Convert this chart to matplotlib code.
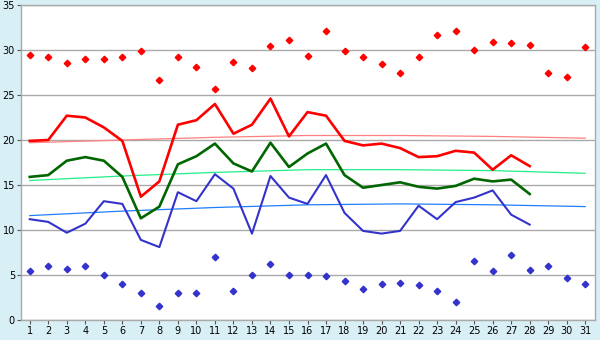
import numpy as np
import matplotlib
matplotlib.use("Agg")
import matplotlib.pyplot as plt

days = list(range(1, 32))
days_obs = list(range(1, 29))

t_max = [19.9, 20.0, 22.7, 22.5, 21.4, 19.9, 13.7, 15.4, 21.7, 22.2,
         24.0, 20.7, 21.7, 24.6, 20.4, 23.1, 22.7, 19.9, 19.4, 19.6,
         19.1, 18.1, 18.2, 18.8, 18.6, 16.7, 18.3, 17.1]
t_mean = [15.9, 16.1, 17.7, 18.1, 17.7, 15.9, 11.3, 12.6, 17.3, 18.2,
          19.6, 17.4, 16.5, 19.7, 17.0, 18.5, 19.6, 16.1, 14.7, 15.0,
          15.3, 14.8, 14.6, 14.9, 15.7, 15.4, 15.6, 14.0]
t_min = [11.2, 10.9, 9.7, 10.7, 13.2, 12.9, 8.9, 8.1, 14.2, 13.2,
         16.2, 14.6, 9.6, 16.0, 13.6, 12.9, 16.1, 11.9, 9.9, 9.6,
         9.9, 12.7, 11.2, 13.1, 13.6, 14.4, 11.7, 10.6]

rec_high = [29.5, 29.2, 28.6, 29.0, 29.0, 29.2, 29.85, 26.7, 29.2, 28.1,
            25.7, 28.7, 28.0, 30.5, 31.1, 29.3, 32.1, 29.85, 29.2, 28.5,
            27.4, 29.2, 31.7, 32.1, 30.0, 30.85, 30.75, 30.6, 27.5, 27.0, 30.3]
rec_low = [5.5, 6.0, 5.7, 6.0, 5.0, 4.0, 3.0, 1.55, 3.0, 3.0,
           7.0, 3.2, 5.0, 6.2, 5.0, 5.0, 4.9, 4.3, 3.5, 4.0,
           4.1, 3.85, 3.2, 2.0, 6.6, 5.4, 7.2, 5.6, 6.0, 4.7, 4.0]

# smooth normal curves, read at a few days
trend_days = [1, 6, 11, 16, 21, 26, 31]
norm_max = [19.7, 20.0, 20.3, 20.5, 20.5, 20.4, 20.2]
norm_mean = [15.5, 16.0, 16.4, 16.7, 16.7, 16.6, 16.3]
norm_min = [11.6, 12.1, 12.5, 12.8, 12.9, 12.8, 12.6]

bg = "#d9eff6"
fig = plt.figure(figsize=(6, 3.4), dpi=100, facecolor=bg)
ax = fig.add_axes([20.5 / 600, 20 / 340, 574 / 600, 315 / 340])
ax.set_facecolor("white")

ax.set_xlim(0.5, 31.5)
ax.set_ylim(0, 35)
ax.set_yticks(range(0, 36, 5))
ax.set_xticks(days)
ax.grid(axis="y", color="#aaaaaa", linewidth=1.0)
ax.set_axisbelow(True)
for s in ax.spines.values():
    s.set_color("#aaaaaa")
    s.set_linewidth(1.0)
ax.tick_params(axis="both", colors="#555555", labelcolor="black",
               labelsize=7, length=3, width=0.8, pad=1)

ax.plot(trend_days, norm_max, color="#ff8080", linewidth=0.9)
ax.plot(trend_days, norm_mean, color="#22ee88", linewidth=0.9)
ax.plot(trend_days, norm_min, color="#1e7fff", linewidth=0.9)

ax.plot(days_obs, t_max, color="#ff0000", linewidth=1.9)
ax.plot(days_obs, t_mean, color="#006600", linewidth=1.9)
ax.plot(days_obs, t_min, color="#3333cc", linewidth=1.5)

ax.plot(days, rec_high, linestyle="none", marker="D", markersize=3.3,
        color="#ff0000")
ax.plot(days, rec_low, linestyle="none", marker="D", markersize=3.3,
        color="#3333cc")

fig.savefig("out.png", dpi=100, facecolor=bg)
